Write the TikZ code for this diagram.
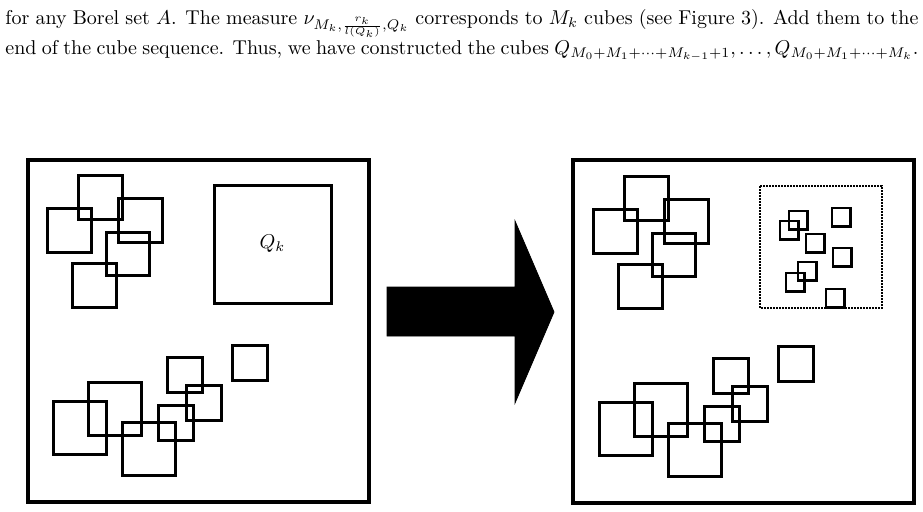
\documentclass[tikz,border=0pt]{standalone}
\usepackage{amsmath}
\usepackage{tikz}
\usetikzlibrary{positioning}
\tikzset{%
	panel/.style={
		draw,
		line width=1.6pt
	},
	cube/.style={
		draw,
		line width=1.5pt
	},
	cube-small/.style={ draw, line width=1.4pt },
	cube-region/.style={ draw, line width=1.4pt, dash pattern=on 0.9pt off 0.6pt },
	bigarrow/.style={ fill=black, draw=black, line width=0.4pt },
}

\begin{document}
\begin{tikzpicture}[x=0.5pt, y=-0.5pt]
\useasboundingbox (0,0) rectangle (923,511);

% text above the figure
\node[anchor=base west, inner sep=0pt, text width=456.5pt, align=justify] (intro) at (5,24)
	{\parfillskip=0pt for any Borel set $A$. The measure $\nu_{M_k,\frac{r_k}{l(Q_k)},Q_k}$ corresponds to $M_k$ cubes (see Figure 3). Add them to the end of the cube sequence. Thus, we have constructed the cubes $Q_{M_0+M_1+\cdots+M_{k-1}+1},\ldots,Q_{M_0+M_1+\cdots+M_k}$.};

% panels
\draw[panel] (28,160) rectangle (369,502);
\draw[panel] (573,160) rectangle (914,503);

% cubes in both panels
\foreach \dx/\dy in {0/0, 546/1}
	\foreach \x/\y/\s in {78/175/44, 47/208/44, 118/198/44, 106/232/43, 72/263/44,
			232/345/35, 167/357/35, 186/385/35, 158/405/35,
			88/382/53, 53/401/53, 122/422/53}
		\draw[cube] (\x+\dx,\y+\dy) rectangle ++(\s,\s);

% the cube Q_k
\draw[cube] (214,185) rectangle (331,303);
\node (qk) at (272.5,244) {$Q_k$};

% Q_k replaced by M_k small cubes
\draw[cube-region] (760,186) rectangle (882,308);
\foreach \x/\y in {789/211, 780/221, 832/208, 806/234, 833/248, 798/262, 786/273, 826/289}
	\draw[cube-small] (\x,\y) rectangle ++(18.5,18.5);

% arrow
\fill[bigarrow] (387,287) -- (515,287) -- (515,221) -- (554,312) -- (515,403)
	-- (515,336) -- (387,336) -- cycle;

\end{tikzpicture}
\end{document}
